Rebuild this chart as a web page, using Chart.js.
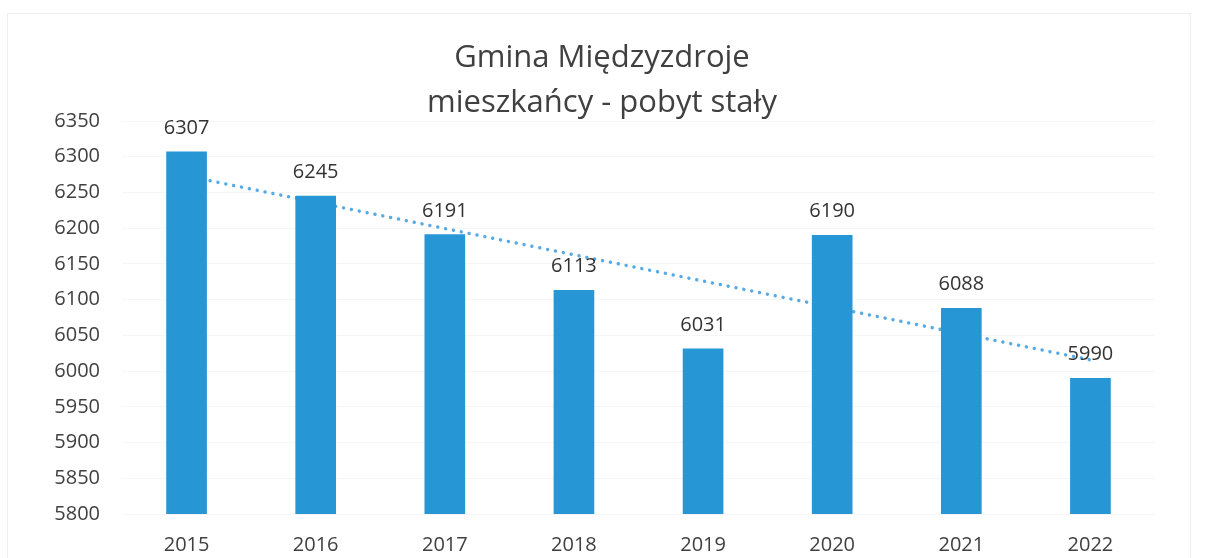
<!DOCTYPE html>
<html>
<head>
<meta charset="utf-8">
<script src="https://cdn.jsdelivr.net/npm/chart.js@4/dist/chart.umd.min.js"></script>
<style>
  html, body { margin: 0; padding: 0; background: #fff; }
  #wrap { width: 1211px; height: 558px; position: relative; }
</style>
</head>
<body>
<div id="wrap"><canvas id="chartBar"></canvas></div>
<script>
const years = ["2015", "2016", "2017", "2018", "2019", "2020", "2021", "2022"];
const residents = [6307, 6245, 6191, 6113, 6031, 6190, 6088, 5990];
const titleLines = ["Gmina Międzyzdroje", "mieszkańcy - pobyt stały"];
const yMin = 5800;
const yMax = 6350;
const yStep = 50;

// linear trend line (least squares, like the spreadsheet trendline)
function linearTrend(values) {
  const n = values.length;
  const mx = (n - 1) / 2;
  const my = values.reduce((a, b) => a + b, 0) / n;
  let sxy = 0, sxx = 0;
  values.forEach(function (v, i) {
    sxy += (i - mx) * (v - my);
    sxx += (i - mx) * (i - mx);
  });
  const slope = sxy / sxx;
  return values.map(function (v, i) { return my + slope * (i - mx); });
}

const textColor = "#404040";
const fontFamily = "'Open Sans', 'Noto Sans', sans-serif";

// title centred on the whole picture, not on the plot
const pageTitle = {
  id: "pageTitle",
  afterDraw(chart) {
    const ctx = chart.ctx;
    ctx.save();
    ctx.font = "31px " + fontFamily;
    ctx.fillStyle = textColor;
    ctx.textAlign = "center";
    ctx.textBaseline = "middle";
    ctx.fillText(titleLines[0], 602, 58);
    ctx.fillText(titleLines[1], 602, 103);
    ctx.restore();
  }
};

const barLabels = {
  id: "barLabels",
  afterDatasetsDraw(chart) {
    const ctx = chart.ctx;
    const meta = chart.getDatasetMeta(0);
    ctx.save();
    ctx.font = "20px " + fontFamily;
    ctx.fillStyle = "#333333";
    ctx.textAlign = "center";
    ctx.textBaseline = "alphabetic";
    meta.data.forEach(function (bar, i) {
      ctx.fillText(String(residents[i]), bar.x, bar.y - 18);
    });
    ctx.restore();
  }
};

const frame = {
  id: "frame",
  beforeDraw(chart) {
    const ctx = chart.ctx;
    ctx.save();
    ctx.strokeStyle = "#eeeeee";
    ctx.lineWidth = 1;
    ctx.strokeRect(7.5, 13.5, 1183, 560);
    ctx.restore();
  }
};

const config = {
  data: {
    labels: years,
    datasets: [
      {
        type: "bar",
        label: "mieszkańcy",
        data: residents,
        backgroundColor: "rgb(39, 150, 213)",
        barThickness: 40,
        order: 1
      },
      {
        type: "line",
        label: "trend",
        data: linearTrend(residents),
        borderColor: "rgb(88, 170, 228)",
        borderWidth: 3.5,
        borderDash: [0.01, 8],
        borderCapStyle: "round",
        pointRadius: 0,
        fill: false,
        order: 2
      }
    ]
  },
  options: {
    responsive: true,
    maintainAspectRatio: false,
    animation: false,
    layout: { padding: { left: 0, right: 56, top: 121, bottom: 0 } },
    plugins: {
      legend: { display: false },
      tooltip: { enabled: false },
      title: { display: false }
    },
    scales: {
      x: {
        afterFit(scale) { scale.height = 44; },
        grid: { display: false, drawTicks: false },
        border: { display: false },
        ticks: { color: textColor, font: { family: fontFamily, size: 20 }, padding: 19 }
      },
      y: {
        min: yMin,
        max: yMax,
        afterFit(scale) { scale.width = 122; },
        grid: { color: "#f6f6f6", drawTicks: false },
        border: { display: false },
        ticks: {
          stepSize: yStep,
          color: textColor,
          font: { family: fontFamily, size: 20 },
          padding: 22,
          callback: function (v) { return String(v); }
        }
      }
    }
  },
  plugins: [frame, barLabels, pageTitle]
};

new Chart(document.getElementById("chartBar"), config);
</script>
</body>
</html>
